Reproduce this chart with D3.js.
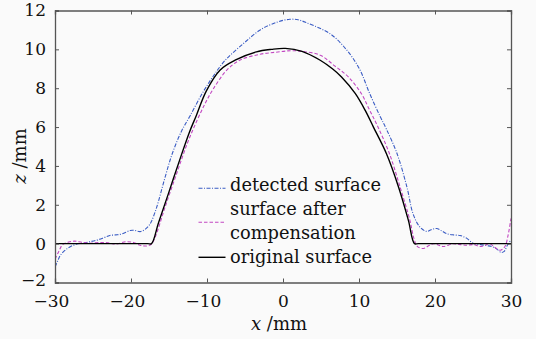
<!DOCTYPE html>
<html>
<head>
<meta charset="utf-8">
<script src="https://cdn.jsdelivr.net/npm/d3@7"></script>
<style>
  html, body { margin: 0; padding: 0; background: #fafafa; }
  svg { display: block; }
</style>
</head>
<body>
<svg id="chart" width="536" height="339"></svg>
<script>
// ---- data ----
const xTicks = [-30, -20, -10, 0, 10, 20, 30];
const yTicks = [-2, 0, 2, 4, 6, 8, 10, 12];

const origX = [-30, -17.8, -17.3, -16.4, -15.1, -13.6, -12.3, -11.4, -10.1, -8.3, -6.3, -3.5, -1.5, 0.3, 2.5, 4.9, 6.5, 7.7, 9.5, 10.8, 11.9, 13.6, 15.2, 16.5, 17.3, 17.8, 30];
const origZ = [0, 0, 0, 1.05, 2.55, 4.3, 5.75, 6.6, 7.85, 8.93, 9.44, 9.87, 10.0, 10.05, 9.9, 9.44, 9.0, 8.58, 7.73, 6.87, 6.0, 4.64, 2.92, 1.2, 0, 0, 0];

const compX = [-30, -29.5, -29.0, -28.2, -27.4, -26.5, -25.5, -24.1, -23.0, -22.0, -20.6, -19.6, -18.8, -17.9, -17.3, -16.8, -15.5, -14.0, -12.6, -11.3, -10.2, -9.2, -7.4, -5.7, -3.0, -1.0, 1.0, 2.5, 4.9, 6.8, 8.6, 10.3, 11.4, 12.5, 14.0, 15.4, 16.7, 17.2, 17.7, 18.5, 19.2, 19.8, 20.5, 21.1, 22.4, 23.3, 24.2, 25.1, 25.9, 26.6, 27.2, 27.9, 28.6, 29.2, 29.6, 30];
const compZ = [-0.8, -0.4, -0.05, 0.08, 0.13, 0.07, 0.02, 0.06, 0.04, -0.02, 0.1, 0.05, -0.08, -0.12, -0.02, 0.35, 1.9, 3.6, 5.15, 6.35, 7.25, 7.95, 8.93, 9.44, 9.75, 9.85, 9.93, 9.9, 9.7, 9.15, 8.58, 7.73, 6.87, 6.0, 4.64, 2.92, 1.2, 0.3, -0.15, -0.25, -0.1, 0.0, -0.08, -0.15, 0.0, -0.05, -0.08, -0.05, -0.15, -0.08, 0.0, -0.2, -0.34, -0.15, 0.4, 1.3];

const detX = [-30, -29.6, -29.3, -28.7, -28.0, -27.2, -26.3, -25.4, -24.5, -23.6, -22.8, -22.0, -21.2, -20.1, -19.5, -18.8, -18.2, -17.6, -17.3, -16.6, -15.6, -14.6, -13.4, -12.2, -10.6, -9.25, -7.6, -5.2, -3.0, -0.8, 0.9, 2.0, 3.1, 6.2, 8.4, 10.1, 11.4, 12.8, 13.6, 15.0, 16.3, 17.1, 18.0, 18.9, 19.5, 20.2, 20.9, 21.5, 22.4, 23.3, 24.2, 25.0, 26.0, 26.8, 27.5, 28.1, 28.7, 29.1, 29.5, 30];
const detZ = [-1.2, -0.85, -0.6, -0.35, -0.16, -0.03, 0.03, 0.1, 0.18, 0.3, 0.42, 0.45, 0.5, 0.68, 0.68, 0.62, 0.72, 0.95, 1.15, 1.9, 3.3, 4.6, 5.75, 6.6, 7.75, 8.58, 9.44, 10.3, 11.0, 11.4, 11.55, 11.52, 11.37, 10.8, 9.96, 8.96, 7.73, 6.53, 5.9, 4.64, 2.92, 1.55, 0.86, 0.63, 0.72, 0.78, 0.65, 0.52, 0.45, 0.42, 0.27, 0.02, -0.05, -0.1, -0.15, -0.27, -0.45, -0.4, -0.1, 0.2];

const seriesNames = ["detected surface", "surface after", "compensation", "original surface"];

// ---- drawing ----
const FONT = '"DejaVu Serif", "Liberation Serif", serif';
const svg = d3.select("#chart");
const L = 55, R = 511, T = 10.5, B = 282.5;
const x = d3.scaleLinear().domain([-30, 30]).range([L, R]);
const y = d3.scaleLinear().domain([-2, 12]).range([B, T]);

const zip = (a, b) => a.map((v, i) => [v, b[i]]);
const line = d3.line().x(d => x(d[0])).y(d => y(d[1])).curve(d3.curveCatmullRom.alpha(0.5));

svg.append("clipPath").attr("id", "clip")
  .append("rect").attr("x", L).attr("y", T).attr("width", R - L).attr("height", B - T);

const plot = svg.append("g").attr("clip-path", "url(#clip)");

plot.append("path").attr("d", line(zip(detX, detZ)))
  .attr("fill", "none").attr("stroke", "#3a5cc4").attr("stroke-width", 1.1)
  .attr("stroke-dasharray", "4,1.5,1,1.5");
plot.append("path").attr("d", line(zip(compX, compZ)))
  .attr("fill", "none").attr("stroke", "#c248c2").attr("stroke-width", 1.1)
  .attr("stroke-dasharray", "3.5,2");
plot.append("path").attr("d", line(zip(origX, origZ)))
  .attr("fill", "none").attr("stroke", "#000").attr("stroke-width", 1.4);

// axes (inward ticks on all sides)
const tl = 4;
const fmt = v => (v < 0 ? "\u2212" + Math.abs(v) : String(v));
const axB = svg.append("g").attr("transform", `translate(0,${B})`)
  .call(d3.axisBottom(x).tickValues(xTicks).tickSize(-tl).tickPadding(12).tickFormat(fmt));
const axT = svg.append("g").attr("transform", `translate(0,${T})`)
  .call(d3.axisTop(x).tickValues(xTicks).tickSize(-tl).tickFormat(""));
const axL = svg.append("g").attr("transform", `translate(${L},0)`)
  .call(d3.axisLeft(y).tickValues(yTicks).tickSize(-tl).tickPadding(9).tickFormat(fmt));
const axR = svg.append("g").attr("transform", `translate(${R},0)`)
  .call(d3.axisRight(y).tickValues(yTicks).tickSize(-tl).tickFormat(""));

[axB, axT, axL, axR].forEach(g => {
  g.attr("font-family", FONT).attr("font-size", 17);
  g.select(".domain").attr("stroke", "#555").attr("stroke-width", 1.3);
  g.selectAll(".tick line").attr("stroke", "#555").attr("stroke-width", 1);
  g.selectAll("text").attr("fill", "#111");
});
axB.selectAll(".tick text").attr("dy", "0.71em");
axB.selectAll(".tick").filter(d => d < 0).select("text").attr("dx", -4);
axL.selectAll(".tick").filter(d => d === -2).select("text").attr("dy", "0.2em");

// axis labels
const xl = svg.append("text").attr("x", 279).attr("y", 330).attr("text-anchor", "middle")
  .attr("font-family", FONT).attr("font-size", 18).attr("fill", "#111");
xl.append("tspan").attr("font-style", "italic").text("x");
xl.append("tspan").text(" /mm");

const yl = svg.append("text").attr("transform", "translate(26,156) rotate(-90)")
  .attr("text-anchor", "middle").attr("font-family", FONT).attr("font-size", 18).attr("fill", "#111");
yl.append("tspan").attr("font-style", "italic").text("z");
yl.append("tspan").text(" /mm");

// legend
const lg = svg.append("g");
const sx0 = 198.5, sx1 = 225.5, tx = 230;
lg.append("line").attr("x1", sx0).attr("x2", sx1).attr("y1", 188.3).attr("y2", 188.3)
  .attr("stroke", "#3a5cc4").attr("stroke-width", 1.1).attr("stroke-dasharray", "4,1.5,1,1.5");
lg.append("line").attr("x1", sx0).attr("x2", sx1).attr("y1", 222.3).attr("y2", 222.3)
  .attr("stroke", "#c248c2").attr("stroke-width", 1.1).attr("stroke-dasharray", "3.5,2");
lg.append("line").attr("x1", sx0).attr("x2", sx1).attr("y1", 257.3).attr("y2", 257.3)
  .attr("stroke", "#000").attr("stroke-width", 1.4);
const baselines = [190.7, 215, 238.5, 262.7];
seriesNames.forEach((s, i) => {
  lg.append("text").attr("x", tx).attr("y", baselines[i]).attr("font-family", FONT)
    .attr("font-size", 17.8).attr("fill", "#111").text(s);
});
</script>
</body>
</html>
